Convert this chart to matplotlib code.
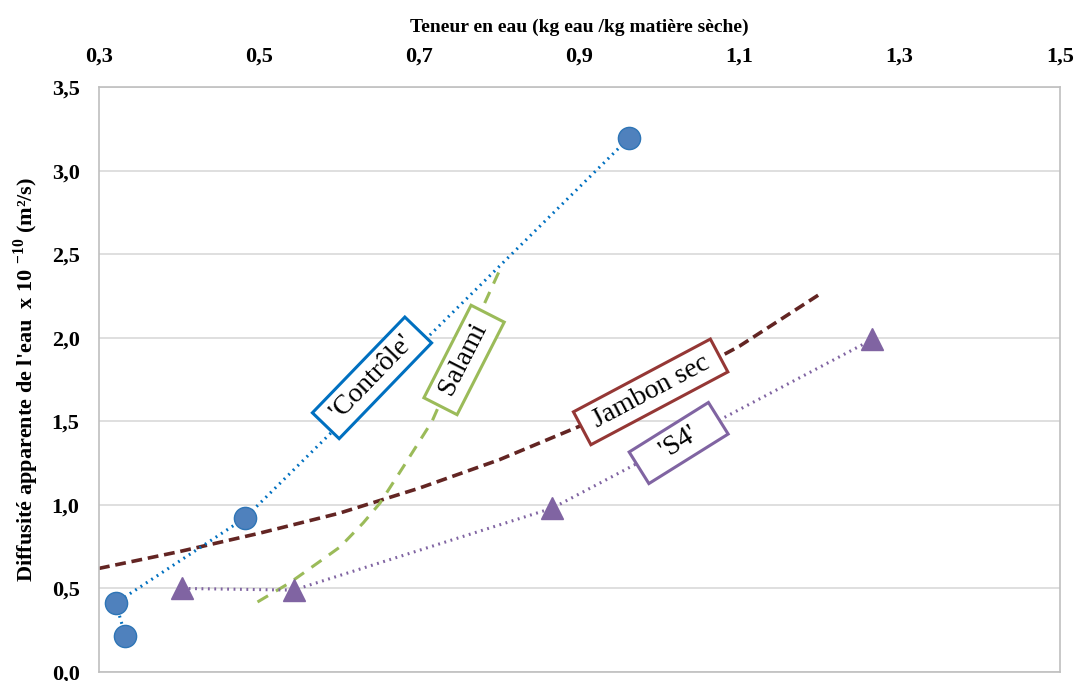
import matplotlib
matplotlib.use("Agg")
import matplotlib.pyplot as plt
from matplotlib.ticker import FuncFormatter

plt.rcParams['font.family'] = ['Liberation Serif', 'DejaVu Serif']
plt.rcParams['mathtext.fontset'] = 'custom'
plt.rcParams['mathtext.rm'] = 'Liberation Serif'
plt.rcParams['mathtext.bf'] = 'Liberation Serif:bold'

# donnees
controle_x = [0.333, 0.321, 0.482, 0.962]
controle_y = [0.215, 0.413, 0.920, 3.195]

s4_x = [0.404, 0.543, 0.866, 1.266]
s4_y = [0.500, 0.490, 0.980, 1.990]

jambon_x = [0.30, 0.40, 0.50, 0.60, 0.70, 0.80, 0.90, 1.00, 1.10, 1.20]
jambon_y = [0.62, 0.72, 0.83, 0.95, 1.10, 1.27, 1.47, 1.69, 1.95, 2.26]

salami_x = [0.498, 0.538, 0.573, 0.601, 0.630, 0.651, 0.680, 0.716, 0.762, 0.801]
salami_y = [0.419, 0.533, 0.652, 0.748, 0.892, 1.011, 1.227, 1.500, 2.000, 2.410]

labels = [" 'Contrôle' ", " Salami ", " Jambon sec ", "   'S4'   "]
label_x = [0.641, 0.756, 0.989, 1.024]
label_y = [1.76, 1.867, 1.676, 1.370]
label_rot = [46, 63, 28, 32]
label_col = ['#0070C0', '#9BBB59', '#953735', '#8064A2']

fig = plt.figure(figsize=(10.77, 6.81), dpi=100)
ax = fig.add_axes([0.0919, 0.0132, 0.8921, 0.859])

#grid
ax.set_axisbelow(True)
ax.yaxis.grid(True, color='#D9D9D9', lw=1.2)
for s in ax.spines.values():
    s.set_color('#BFBFBF')
    s.set_linewidth(1.2)

#courbes
ax.plot(jambon_x, jambon_y, color='#632523', lw=2.6, ls=(0, (3, 1.6)))
ax.plot(salami_x, salami_y, color='#9BBB59', lw=2.2, ls=(0, (4, 3)))
ax.plot(controle_x, controle_y, color='#0070C0', lw=2.2, ls=(0, (0.6, 1.5)),
        marker='o', ms=16, mfc='#4F81BD', mec='#2E75B6', mew=1)
ax.plot(s4_x, s4_y, color='#8064A2', lw=2.2, ls=(0, (0.6, 1.5)),
        marker='^', ms=16, mfc='#8064A2', mec='#8064A2')

#etiquettes
for i in range(len(labels)):
    ax.text(label_x[i], label_y[i], labels[i], rotation=label_rot[i],
            rotation_mode='anchor', ha='center', va='center', fontsize=20,
            bbox=dict(boxstyle='square,pad=0.22', fc='white', ec=label_col[i], lw=2.2))

ax.set_xlim(0.3, 1.5)
ax.set_ylim(0, 3.5)
ax.set_xticks([0.3, 0.5, 0.7, 0.9, 1.1, 1.3, 1.5])
ax.set_yticks([0, 0.5, 1.0, 1.5, 2.0, 2.5, 3.0, 3.5])
fmt = FuncFormatter(lambda v, p: ('%.1f' % v).replace('.', ','))
ax.xaxis.set_major_formatter(fmt)
ax.yaxis.set_major_formatter(fmt)
ax.xaxis.tick_top()
ax.xaxis.set_label_position('top')
ax.tick_params(axis='x', length=0, labelsize=16, pad=15)
ax.tick_params(axis='y', length=0, labelsize=16, pad=14)
for t in ax.get_xticklabels() + ax.get_yticklabels():
    t.set_fontweight('bold')

ax.set_xlabel('Teneur en eau (kg eau /kg matière sèche)', fontsize=14, fontweight='bold', labelpad=10)
ax.set_ylabel(r"Diffusité apparente de l'eau  x 10 $^{\mathbf{-10}}$ (m²/s)", fontsize=16,
              fontweight='bold', labelpad=8)

plt.savefig('out.png', dpi=100)
